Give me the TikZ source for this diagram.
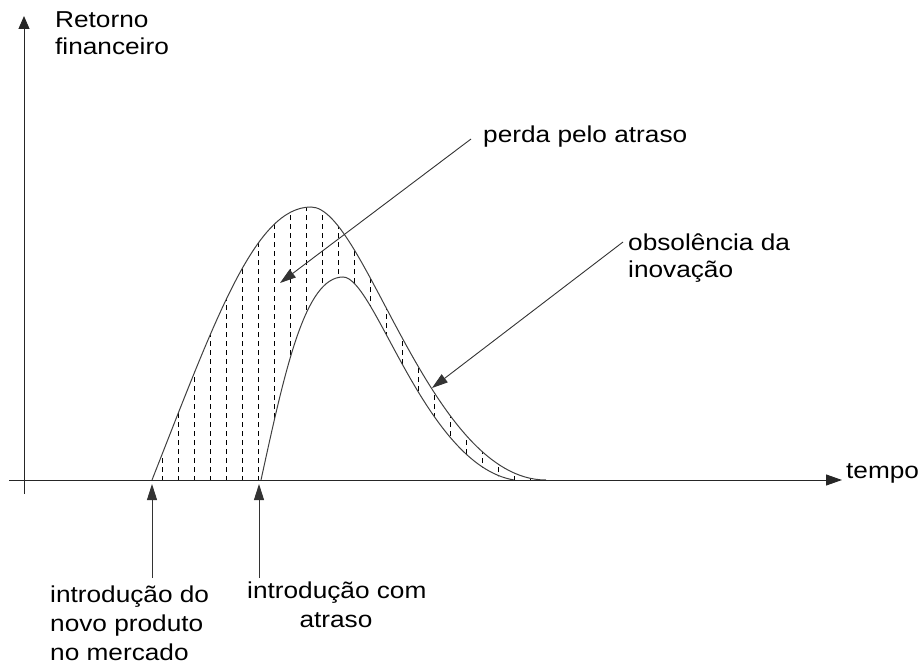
\documentclass[tikz,border=0pt]{standalone}
\usepackage{fontspec}
\setmainfont[FakeStretch=1.14]{Liberation Sans}
\usetikzlibrary{arrows.meta}
\tikzset{
  axisline/.style={line width=1pt, draw=black!85},
  curveline/.style={line width=1pt, draw=black!75},
  hatchline/.style={line width=0.8pt, draw=black, dash pattern=on 5pt off 4pt},
  pointer/.style={line width=0.9pt, draw=black!80, -{Triangle[length=16pt,width=10pt]}},
  lbl/.style={inner sep=0pt, font=\fontsize{23}{27}\selectfont},
}
\begin{document}
\begin{tikzpicture}[x=1pt,y=-1pt]
\useasboundingbox (0,0) rectangle (918,663);
% hatched area
\begin{scope}
  \clip (152,480) .. controls (215,320) and (255,207) .. (311,207)
        .. controls (365,207) and (430,480) .. (546,480) -- cycle;
  \foreach \x in {162,178,...,546} \draw[hatchline] (\x,481) -- (\x,195);
  \fill[white] (261,481) .. controls (285,370) and (305,277) .. (343,277)
        .. controls (375,277) and (425,465) .. (514,481) -- cycle;
\end{scope}
% curves
\draw[curveline] (152,480) .. controls (215,320) and (255,207) .. (311,207)
        .. controls (365,207) and (430,480) .. (546,480);
\draw[curveline] (261,480) .. controls (285,370) and (305,277) .. (343,277)
        .. controls (375,277) and (425,465) .. (514,480);
% axes
\coordinate (yo) at (24,494);
\coordinate (ytip) at (24,16);
\coordinate (xo) at (9,480);
\coordinate (xtip) at (842,480);
\draw[axisline, -{Triangle[length=13pt,width=11pt]}] (yo) -- (ytip);
\draw[axisline, -{Triangle[length=16pt,width=11pt]}] (xo) -- (xtip);
% labels
\node[lbl, anchor=base west] (tempo) at (846,478) {tempo};
\node[lbl, anchor=base west] (ret1) at (55,28) {Retorno};
\node[lbl, anchor=base west] (ret2) at (55,55) {financeiro};
\node[lbl, anchor=base west] (perda) at (483,143) {perda pelo atraso};
\node[lbl, anchor=base west] (obs1) at (628,250) {obsolência da};
\node[lbl, anchor=base west] (obs2) at (628,277) {inovação};
\node[lbl, anchor=base west] (intro1) at (50,602) {introdução do};
\node[lbl, anchor=base west] (intro2) at (50,631) {novo produto};
\node[lbl, anchor=base west] (intro3) at (50,660) {no mercado};
\node[lbl, anchor=base west] (atr1) at (247,598) {introdução com};
\node[lbl, anchor=base] (atr2) at (336,627) {atraso};
% pointers
\coordinate (ps) at (471,139);
\coordinate (pe) at (280,283);
\coordinate (os) at (623,242);
\coordinate (oe) at (432,388);
\coordinate (i1s) at (152,578);
\coordinate (i1e) at (152,484);
\coordinate (i2s) at (259,578);
\coordinate (i2e) at (259,484);
\draw[pointer] (ps) -- (pe);
\draw[pointer] (os) -- (oe);
\draw[pointer] (i1s) -- (i1e);
\draw[pointer] (i2s) -- (i2e);
\end{tikzpicture}
\end{document}
